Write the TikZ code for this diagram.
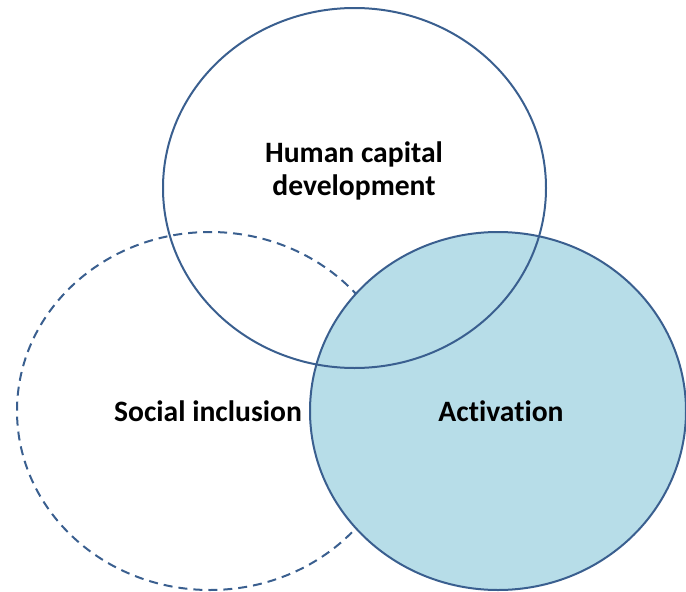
\documentclass[tikz,border=0pt]{standalone}
\usepackage{fontspec}
\setmainfont{Carlito}[Ligatures=NoCommon]
\definecolor{edge}{HTML}{3A5F8F}
\definecolor{fillblue}{HTML}{B7DDE8}
\begin{document}
\begin{tikzpicture}[x=1pt,y=-1pt,
  ring/.style={draw=edge,line width=2pt},
  lbl/.style={font=\fontsize{29.6}{33}\selectfont\bfseries,align=center,text=black,inner sep=0pt}]
\useasboundingbox (0,0) rectangle (686,592);
\draw[ring,dash pattern=on 9pt off 6pt] (210,411) ellipse [x radius=193,y radius=179];
\draw[ring,fill=fillblue] (498,411) ellipse [x radius=188,y radius=179];
\draw[ring] (354.5,188) ellipse [x radius=191.5,y radius=180];
\node[lbl] (hcd) at (354,171) {Human capital\\development};
\node[lbl] (si) at (208,411) {Social inclusion};
\node[lbl] (act) at (501,411) {Activation};
\end{tikzpicture}
\end{document}
